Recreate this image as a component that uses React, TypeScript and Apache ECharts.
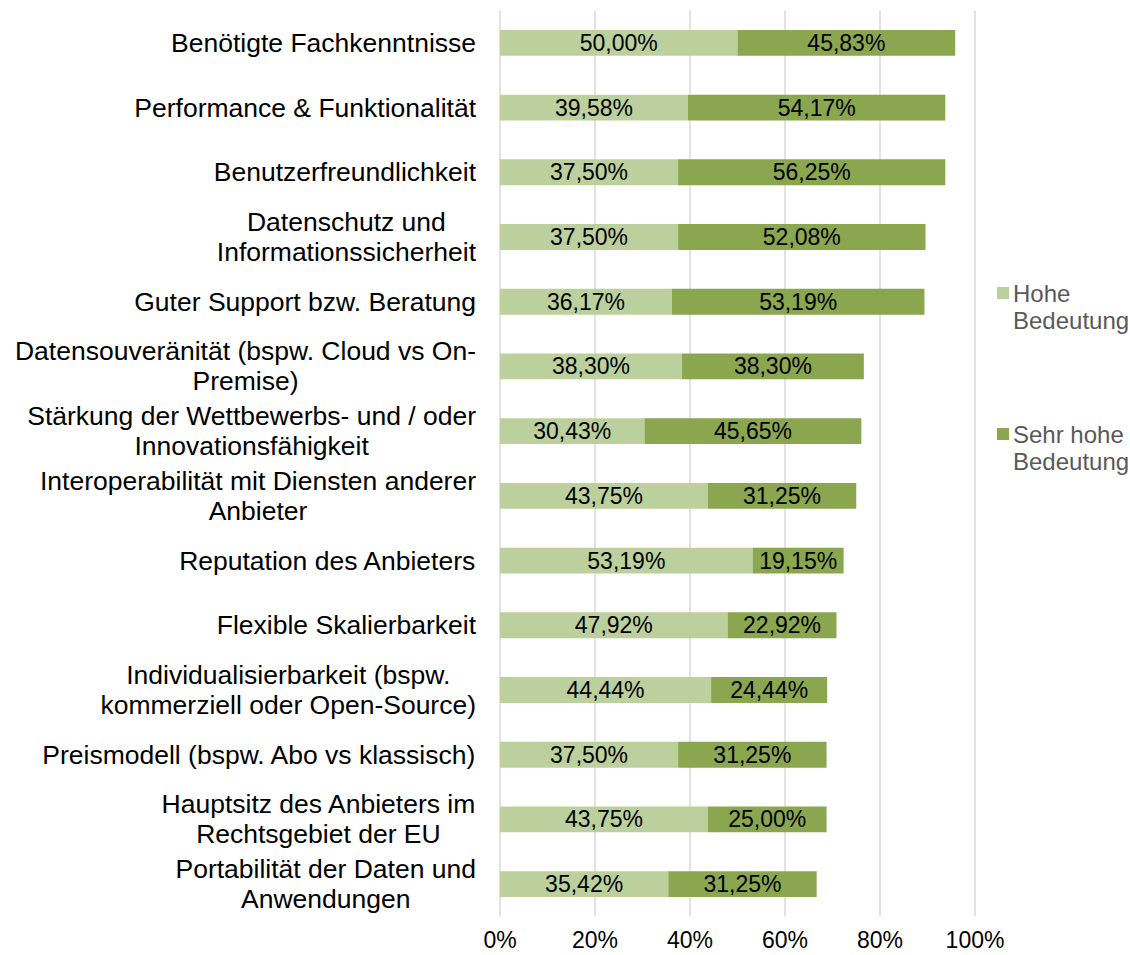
import React, { useEffect, useRef } from "react";
import * as echarts from "echarts";

const categories = [
  "Benötigte Fachkenntnisse",
  "Performance & Funktionalität",
  "Benutzerfreundlichkeit",
  "Datenschutz und\nInformationssicherheit",
  "Guter Support bzw. Beratung",
  "Datensouveränität (bspw. Cloud vs On-\nPremise)",
  "Stärkung der Wettbewerbs- und / oder\nInnovationsfähigkeit",
  "Interoperabilität mit Diensten anderer\nAnbieter",
  "Reputation des Anbieters",
  "Flexible Skalierbarkeit",
  "Individualisierbarkeit (bspw.\nkommerziell oder Open-Source)",
  "Preismodell (bspw. Abo vs klassisch)",
  "Hauptsitz des Anbieters im\nRechtsgebiet der EU",
  "Portabilität der Daten und\nAnwendungen",
];

const hoheBedeutung = [50.0, 39.58, 37.5, 37.5, 36.17, 38.3, 30.43, 43.75, 53.19, 47.92, 44.44, 37.5, 43.75, 35.42];
const sehrHoheBedeutung = [45.83, 54.17, 56.25, 52.08, 53.19, 38.3, 45.65, 31.25, 19.15, 22.92, 24.44, 31.25, 25.0, 31.25];

const seriesNames = ["Hohe Bedeutung", "Sehr hohe Bedeutung"];
const legendLabels = ["Hohe\nBedeutung", "Sehr hohe\nBedeutung"];
const colors = ["#BBD09C", "#8AA64F"];

const FONT = "'Liberation Sans', Arial, sans-serif";

const fmt = (v: number) => v.toFixed(2).replace(".", ",") + "%";

export default function App() {
  const ref = useRef<HTMLDivElement>(null);
  useEffect(() => {
    document.body.style.margin = "0";
    const chart = echarts.init(ref.current!, undefined, { renderer: "svg" });
    const labelStyle = {
      show: true,
      position: "inside" as const,
      color: "#000",
      fontSize: 23,
      fontFamily: FONT,
      formatter: (p: any) => fmt(p.value),
    };
    chart.setOption({
      animation: false,
      textStyle: { fontFamily: FONT },
      grid: { left: 500, right: 155, top: 10.5, bottom: 38.5, containLabel: false },
      xAxis: {
        type: "value",
        min: 0,
        max: 100,
        interval: 20,
        axisLabel: {
          formatter: (v: number) => v + "%",
          fontSize: 23,
          color: "#000",
          margin: 12,
          fontFamily: FONT,
        },
        axisLine: { show: false },
        axisTick: { show: false },
        splitLine: { show: true, lineStyle: { color: "#D9D9D9", width: 1.5 } },
      },
      yAxis: {
        type: "category",
        inverse: true,
        data: categories,
        axisLine: { show: false },
        axisTick: { show: false },
        axisLabel: {
          interval: 0,
          margin: 24,
          align: "right",
          formatter: (v: string) =>
            v
              .split("\n")
              .map((l) => `{c|${l}}`)
              .join("\n"),
          rich: {
            c: {
              align: "center",
              fontSize: 26.5,
              lineHeight: 30,
              color: "#000",
              fontFamily: FONT,
            },
          },
        },
      },
      series: [
        {
          name: seriesNames[0],
          type: "bar",
          stack: "total",
          data: hoheBedeutung,
          barWidth: "40%",
          itemStyle: { color: colors[0] },
          label: labelStyle,
        },
        {
          name: seriesNames[1],
          type: "bar",
          stack: "total",
          data: sehrHoheBedeutung,
          barWidth: "40%",
          itemStyle: { color: colors[1] },
          label: labelStyle,
        },
      ],
      graphic: [
        { type: "rect", left: 997, top: 287, shape: { width: 12, height: 12 }, style: { fill: colors[0] } },
        {
          type: "text",
          left: 1013,
          top: 279.5,
          style: { text: legendLabels[0], fontSize: 24, lineHeight: 27, fill: "#595959", fontFamily: FONT },
        },
        { type: "rect", left: 997, top: 428, shape: { width: 12, height: 12 }, style: { fill: colors[1] } },
        {
          type: "text",
          left: 1013,
          top: 420.5,
          style: { text: legendLabels[1], fontSize: 24, lineHeight: 27, fill: "#595959", fontFamily: FONT },
        },
      ],
    });
    return () => chart.dispose();
  }, []);
  return <div ref={ref} style={{ width: 1130, height: 955 }} />;
}
